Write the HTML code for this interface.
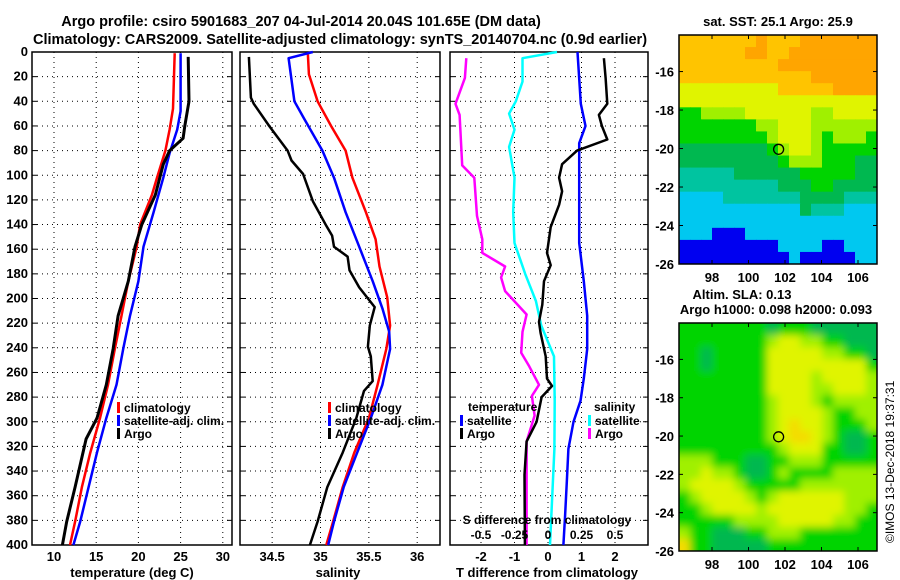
<!DOCTYPE html>
<html><head><meta charset="utf-8"><style>
body{margin:0;background:#fff;}
svg{display:block;font-family:"Liberation Sans",sans-serif;font-weight:bold;}
</style></head><body>
<svg id="fig" width="900" height="580" viewBox="0 0 900 580" xmlns="http://www.w3.org/2000/svg">
<text x="301" y="26" font-size="14.5" text-anchor="middle">Argo profile: csiro 5901683_207 04-Jul-2014 20.04S 101.65E (DM data)</text>
<text x="340" y="44" font-size="14.5" text-anchor="middle">Climatology: CARS2009. Satellite-adjusted climatology: synTS_20140704.nc (0.9d earlier)</text>
<g id="p1"></g>
<g id="p2"></g>
<g id="p3"></g>
<g id="m1"></g>
<g id="m2"></g>
<text x="778" y="26" font-size="13" text-anchor="middle">sat. SST: 25.1 Argo: 25.9</text>
<text x="742" y="299" font-size="13" text-anchor="middle">Altim. SLA: 0.13</text>
<text x="776" y="314" font-size="13" text-anchor="middle">Argo h1000: 0.098 h2000: 0.093</text>
<text transform="translate(894,543) rotate(-90)" font-size="12" font-weight="normal">©IMOS 13-Dec-2018 19:37:31</text>
</svg>
<script>
// depth axis
const depthTicks=[0,20,40,60,80,100,120,140,160,180,200,220,240,260,280,300,320,340,360,380,400];
// temperature panel
const tempTicks=[10,15,20,25,30];
const tClimD=[1,46,63,80,102,116,140,158,186,214,241,270,297,325,353,381,400];
const tClimV=[24.3,24.1,23.7,23.2,22.2,21.6,20.2,19.8,18.8,18.0,17.2,16.4,15.45,14.3,13.3,12.5,11.9];
const tSatD=[1,48,63,82,102,130,158,186,214,241,270,297,325,353,381,400];
const tSatV=[25.0,25.0,24.6,23.7,22.95,21.8,20.6,20.0,19.0,18.2,17.4,16.2,15.1,14.1,13.1,12.3];
const tArgoD=[4,40,60,70,80,91,116,140,158,186,214,241,270,297,314,353,381,400];
const tArgoV=[25.9,26.0,25.5,25.3,23.7,22.95,22.0,20.4,19.6,18.8,17.6,17.0,16.2,15.1,13.8,12.5,11.5,11.0];
// salinity panel
const salTicks=[34.5,35,35.5,36];
const sClimD=[2,18,40,60,80,102,130,152,174,199,222,241,270,297,325,353,381,400];
const sClimV=[34.87,34.88,34.97,35.11,35.26,35.33,35.47,35.57,35.61,35.69,35.72,35.68,35.59,35.5,35.35,35.23,35.13,35.06];
const sSatD=[0,5,40,54,80,102,130,158,186,208,227,241,270,297,325,353,381,400];
const sSatV=[34.92,34.67,34.73,34.83,35.02,35.14,35.26,35.4,35.54,35.64,35.71,35.72,35.64,35.52,35.38,35.24,35.14,35.08];
const sArgoD=[4,37,42,60,80,88,99,121,141,149,158,166,177,191,207,222,239,247,267,275,297,325,353,381,400];
const sArgoV=[34.26,34.28,34.31,34.47,34.66,34.7,34.82,34.92,35.06,35.12,35.14,35.28,35.3,35.4,35.56,35.51,35.49,35.52,35.54,35.45,35.37,35.23,35.07,34.97,34.89];
// difference panel
const dTTicks=[-2,-1,0,1,2];
const dSTicks=["-0.5","-0.25","0","0.25","0.5"];
const dSTickVals=[-0.5,-0.25,0,0.25,0.5];
const dTArgoD=[5,21,42,51,60,71,80,91,102,113,124,142,163,173,186,205,219,228,247,265,271,280,300,316,343,400];
const dTArgoV=[1.67,1.72,1.77,1.52,1.61,1.77,0.87,0.42,0.33,0.42,0.33,0.08,-0.03,0.08,-0.12,-0.17,-0.27,-0.22,-0.07,-0.03,0.12,-0.19,-0.34,-0.64,-0.7,-0.69];
const dTSatD=[0,42,60,74,100,155,186,214,241,265,283,300,322,349,376,400];
const dTSatV=[0.88,0.98,1.12,0.93,0.93,0.93,1.07,1.17,1.17,1.07,0.97,0.76,0.61,0.56,0.51,0.46];
const dSSatD=[0,5,24,40,50,63,77,102,130,155,180,202,222,247,283,322,400];
const dSSatV=[0.067,-0.19,-0.19,-0.24,-0.29,-0.25,-0.29,-0.25,-0.26,-0.25,-0.17,-0.09,-0.05,0.045,0.05,0.048,0.015];
const dSArgoD=[5,21,42,51,92,102,133,152,163,174,183,194,213,227,244,255,270,279,295,316,343,400];
const dSArgoV=[-0.61,-0.62,-0.69,-0.66,-0.64,-0.55,-0.53,-0.49,-0.49,-0.32,-0.35,-0.32,-0.16,-0.19,-0.2,-0.14,-0.067,-0.12,-0.1,-0.16,-0.16,-0.16];
// maps
const lonTicks=[98,100,102,104,106];
const latTicks=[-16,-18,-20,-22,-24,-26];
const argoLon=101.65, argoLat=-20.04;
const sstGrid=["YYYYYYYOYYYOOOOOOO","YYYYYYOOYYOOOOOOOO","YYYYYYYYYOOOOOOOOO","YYYYYYYYYYYYOOOOOO","yyyyyyyyyYYYYYOOOO","yyyyyyyyyyyyyyyyyy","GGLLLLyyyyyyLLyyyy","GGGGGGGLLyyyLLLLLL","GGGGGGGGLyyyLGLLLG","ggggggggGLyyLGGGGG","gggggggggGLLLGGGgg","TTTTTggggggGGGGGgg","TTTTTTTTTgggGGgggg","CCCCTTTTTTTggggTTT","CCCCCCCCCCCgTTTCCC","CCCCCCCCCCCCCCCCCC","CCCBBBCCCCCCCCCCCC","BBBBBBBBBCCCCBBCCC","BBBBBBBBBBCBBBBBCC"];
const slaGrid=["GGGGGGGGgGGGgggggg","GGGGGGGGLyyLLGGggg","GGgGGGGGyyyyyLLGGg","GGgGGGGGyyyyyyyyyG","GGGGGGGGyyyyLyyyyL","GGGGGGGGyyyyLLyyyL","GGGGGGGGLyyyLGLLLL","GGGGGGGGLyyyyLGGLL","GGGGGGGGLyoyyLGGGL","GGGGGGGGLyooyLGggG","GGGGGGGGGLyyyGGggG","LLLGGGggGGLLLGGGGG","LLyLLGggGLGGGGLLLL","LyyyyLGGGGGLLLLLLL","GLyyyyLGLyyyyyyLLL","GGLyyyyLyyyyyyyLLG","GGGGGLLLLyyyyyLLGG","LGGgggGGLLLGGGGGGG","oGGgggggGGGGGGGGGG"];

const NS="http://www.w3.org/2000/svg";
function mk(parent,tag,attrs){const e=document.createElementNS(NS,tag);for(const k in attrs)e.setAttribute(k,attrs[k]);parent.appendChild(e);return e;}
const yTop=52,yBot=545;
function yD(d){return yTop+d*(yBot-yTop)/400;}

function panel(g,x0,x1,xs,ticks,labels){
  depthTicks.forEach(d=>{if(d>0&&d<400){const l=mk(g,'line',{x1:x0,x2:x1,y1:yD(d),y2:yD(d),stroke:'#000','stroke-width':1,'stroke-dasharray':'1,4'});
    
    
    mk(g,'line',{x1:x0,x2:x0+5,y1:yD(d),y2:yD(d),stroke:'#000'});mk(g,'line',{x1:x1-5,x2:x1,y1:yD(d),y2:yD(d),stroke:'#000'});}});
  ticks.forEach((t,i)=>{const x=xs(t);if(x>x0&&x<x1){const l=mk(g,'line',{x1:x,x2:x,y1:yTop,y2:yBot,stroke:'#000','stroke-width':1,'stroke-dasharray':'1,4'});
    
    }
    if(labels){const tx=mk(g,'text',{x:x,y:yBot+16,'font-size':13,'text-anchor':'middle'});tx.textContent=labels[i];
    
    }});
  const r=mk(g,'rect',{x:x0,y:yTop,width:x1-x0,height:yBot-yTop,fill:'none',stroke:'#000','stroke-width':1.5});
  
  
}
function line(g,xs,D,V,color,w,name){
  const pts=D.map((d,i)=>xs(V[i]).toFixed(1)+','+yD(d).toFixed(1)).join(' ');
  const p=mk(g,'polyline',{points:pts,fill:'none',stroke:color,'stroke-width':w,'stroke-linejoin':'round'});
  
  
}
function legend(g,x,y,color,text,name){
  mk(g,'rect',{x:x,y:y-10,width:3,height:11,fill:color});
  const t=mk(g,'text',{x:x+7,y:y,'font-size':12});t.textContent=text;
  
  
}
function label(g,x,y,text,name,size,anchor){const t=mk(g,'text',{x:x,y:y,'font-size':size||13,'text-anchor':anchor||'middle'});t.textContent=text;
  
  return t;}

// Panel 1
const g1=document.getElementById('p1');
const xT=t=>54+(t-10)*8.44;
panel(g1,32,232,xT,tempTicks,tempTicks.map(String));
depthTicks.forEach(d=>label(g1,28,yD(d)+4,String(d),'depth-tick-label',13,'end'));
line(g1,xT,tClimD,tClimV,'#f00',2.5,'climatology-temperature-line');
line(g1,xT,tSatD,tSatV,'#00f',2.5,'satellite-temperature-line');
line(g1,xT,tArgoD,tArgoV,'#000',3,'argo-temperature-line');
legend(g1,117,412,'#f00','climatology','legend-climatology');
legend(g1,117,425,'#00f','satellite-adj. clim.','legend-satellite');
legend(g1,117,438,'#000','Argo','legend-argo');
label(g1,132,577,'temperature (deg C)','x-axis-title-temperature');

// Panel 2
const g2=document.getElementById('p2');
const xS=s=>320.5+(s-35)*96.7;
panel(g2,240,440,xS,salTicks,salTicks.map(String));
line(g2,xS,sClimD,sClimV,'#f00',2.5,'climatology-salinity-line');
line(g2,xS,sSatD,sSatV,'#00f',2.5,'satellite-salinity-line');
line(g2,xS,sArgoD,sArgoV,'#000',2.5,'argo-salinity-line');
legend(g2,328,412,'#f00','climatology','legend-climatology');
legend(g2,328,425,'#00f','satellite-adj. clim.','legend-satellite');
legend(g2,328,438,'#000','Argo','legend-argo');
label(g2,338,577,'salinity','x-axis-title-salinity');

// Panel 3
const g3=document.getElementById('p3');
const xDT=v=>548+v*33.5;
const xDS=v=>548+v*134;
panel(g3,450,648,xDT,dTTicks,dTTicks.map(String));
line(g3,xDS,dSSatD,dSSatV,'#0ff',2.5,'satellite-salinity-diff-line');
line(g3,xDS,dSArgoD,dSArgoV,'#f0f',2.5,'argo-salinity-diff-line');
line(g3,xDT,dTSatD,dTSatV,'#00f',2.5,'satellite-temperature-diff-line');
line(g3,xDT,dTArgoD,dTArgoV,'#000',2.5,'argo-temperature-diff-line');
label(g3,468,411,'temperature','legend-temperature-heading',12,'start');
legend(g3,460,425,'#00f','satellite','legend-t-satellite');
legend(g3,460,438,'#000','Argo','legend-t-argo');
label(g3,594,411,'salinity','legend-salinity-heading',12,'start');
legend(g3,588,425,'#0ff','satellite','legend-s-satellite');
legend(g3,588,438,'#f0f','Argo','legend-s-argo');
label(g3,547,524,'S difference from climatology','s-axis-title',12);
dSTicks.forEach((s,i)=>label(g3,xDS(dSTickVals[i]),539,s,'s-tick-label',12));
label(g3,547,577,'T difference from climatology','x-axis-title-tdiff');

// Maps
const pal={O:'#ffa500',Y:'#ffc400',y:'#e0f400',L:'#a0f000',G:'#00d400',g:'#00b850',T:'#00c4a0',C:'#00c8f0',B:'#0000f0',o:'#f4dc00'};
const mx0=679,mx1=877;
const lonX=l=>712+(l-98)*18.25;
function drawMap(g,yT,yB,grid,blur,name){
  const latY=l=>yT+(-14.1-l)*(yB-yT)/11.9;
  const rows=grid.length,cols=grid[0].length;
  const cw=(mx1-mx0)/cols,ch=(yB-yT)/rows;
  const cid='clip'+name;
  const defs=mk(g,'defs',{});
  const cp=mk(defs,'clipPath',{id:cid});mk(cp,'rect',{x:mx0,y:yT,width:mx1-mx0,height:yB-yT});
  if(blur){const f=mk(defs,'filter',{id:'bl'+name,x:'-5%',y:'-5%',width:'110%',height:'110%'});mk(f,'feGaussianBlur',{stdDeviation:4});}
  const outer=mk(g,'g',{'clip-path':'url(#'+cid+')'});
  const cg=mk(outer,'g',blur?{filter:'url(#bl'+name+')'}:{});
  grid.forEach((row,j)=>{[...row].forEach((c,i)=>{
    mk(cg,'rect',{x:mx0+i*cw-(blur&&i==0?cw:0),y:yT+j*ch-(blur&&j==0?ch:0),width:cw+0.6+(blur&&(i==0||i==cols-1)?cw:0),height:ch+0.6+(blur&&(j==0||j==rows-1)?ch:0),fill:pal[c]});});});
  const fr=mk(g,'rect',{x:mx0,y:yT,width:mx1-mx0,height:yB-yT,fill:'none',stroke:'#000','stroke-width':1.5});
  
  
  latTicks.forEach(l=>{const y=latY(l);mk(g,'line',{x1:mx0,x2:mx0+4,y1:y,y2:y,stroke:'#000'});mk(g,'line',{x1:mx1-4,x2:mx1,y1:y,y2:y,stroke:'#000'});
    label(g,674,y+5,String(l),'lat-tick-label',13,'end');});
  lonTicks.forEach(l=>{const x=lonX(l);mk(g,'line',{x1:x,x2:x,y1:yT,y2:yT+4,stroke:'#000'});mk(g,'line',{x1:x,x2:x,y1:yB-4,y2:yB,stroke:'#000'});
    label(g,x,yB+18,String(l),'lon-tick-label',13);});
  const c=mk(g,'circle',{cx:lonX(argoLon),cy:latY(argoLat),r:5,fill:'none',stroke:'#000','stroke-width':1.3});
  
  
}
drawMap(document.getElementById('m1'),35,264,sstGrid,false,'sst');
drawMap(document.getElementById('m2'),323,551,slaGrid,true,'sla');
</script>
</body></html>
